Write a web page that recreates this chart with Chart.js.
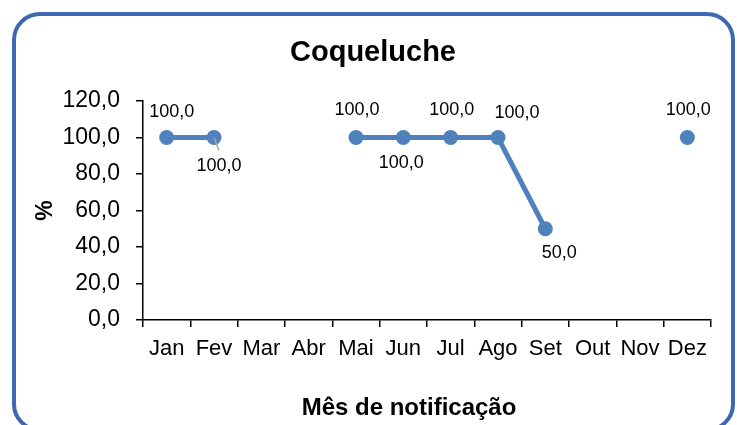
<!DOCTYPE html>
<html>
<head>
<meta charset="utf-8">
<script src="https://cdn.jsdelivr.net/npm/chart.js@4/dist/chart.umd.min.js"></script>
<style>
  html, body { margin: 0; padding: 0; background: #fff; overflow: hidden; }
  #wrap { position: relative; width: 737px; height: 425px; }
  #frame {
    position: absolute; left: 12px; top: 12px; width: 723px; height: 420px;
    box-sizing: border-box; border: 4.5px solid #3f68b3; border-radius: 28px;
    pointer-events: none;
  }
</style>
</head>
<body>
<div id="wrap">
  <canvas id="chart" width="737" height="425"></canvas>
  <div id="frame"></div>
</div>
<script>
var months = ["Jan", "Fev", "Mar", "Abr", "Mai", "Jun", "Jul", "Ago", "Set", "Out", "Nov", "Dez"];
var percent = [100, 100, null, null, 100, 100, 100, 100, 50, null, null, 100];
var yTicks = [0, 20, 40, 60, 80, 100, 120];

var chartTitle = "Coqueluche";
var xTitle = "Mês de notificação";
var yTitle = "%";

// where each value label sits relative to its point (px)
var labelOffsets = [[5, -25], [5, 29], null, null, [1, -27], [-2, 26], [1, -27], [19, -24], [14, 24], null, null, [1, -27]];
var leaderLines = [false, true];

var font = "'Liberation Sans', Arial, sans-serif";

function fmt(v) {
    return v.toFixed(1).replace(".", ",");
}

var valueLabels = {
    id: "valueLabels",
    afterDatasetsDraw: function(chart) {
        var ctx = chart.ctx;
        var meta = chart.getDatasetMeta(0);
        var data = chart.data.datasets[0].data;
        ctx.save();
        meta.data.forEach(function(pt, i) {
            if (data[i] === null || !labelOffsets[i]) return;
            var o = labelOffsets[i];
            if (leaderLines[i]) {
                ctx.strokeStyle = "#a6a6a6";
                ctx.lineWidth = 1.5;
                ctx.beginPath();
                ctx.moveTo(pt.x, pt.y);
                ctx.lineTo(pt.x + o[0], pt.y + o[1] - 16);
                ctx.stroke();
            }
            ctx.fillStyle = "#000";
            ctx.font = "18px " + font;
            ctx.textAlign = "center";
            ctx.textBaseline = "middle";
            ctx.fillText(fmt(data[i]), pt.x + o[0], pt.y + o[1]);
        });
        ctx.restore();
    }
};

// chart title and x axis title sit centred on the frame, not on the plot area
var frameTitles = {
    id: "frameTitles",
    afterDraw: function(chart) {
        var ctx = chart.ctx;
        ctx.save();
        ctx.fillStyle = "#000";
        ctx.textAlign = "center";
        ctx.textBaseline = "middle";
        ctx.font = "bold 29px " + font;
        ctx.fillText(chartTitle, 373, 53);
        ctx.font = "bold 24px " + font;
        ctx.fillText(xTitle, 409, 408);
        ctx.restore();
    }
};

new Chart(document.getElementById("chart"), {
    type: "line",
    data: {
        labels: months,
        datasets: [{
            data: percent,
            borderColor: "#4f81bd",
            backgroundColor: "#4f81bd",
            borderWidth: 5,
            pointRadius: 7.5,
            pointHoverRadius: 7.5,
            pointBackgroundColor: "#4f81bd",
            pointBorderWidth: 0,
            spanGaps: false,
            tension: 0
        }]
    },
    plugins: [valueLabels, frameTitles],
    options: {
        responsive: false,
        animation: false,
        layout: { padding: { left: 0, right: 26, top: 101, bottom: 0 } },
        plugins: {
            legend: { display: false },
            tooltip: { enabled: false },
            title: { display: false }
        },
        scales: {
            x: {
                offset: true,
                grid: { offset: true, drawOnChartArea: false, drawTicks: true, tickLength: 7, color: "#000", lineWidth: 1.5 },
                border: { color: "#000", width: 1.5 },
                ticks: { color: "#000", font: { family: font, size: 22 }, padding: 9, maxRotation: 0, autoSkip: false },
                afterFit: function(scale) { scale.height = 105; }
            },
            y: {
                min: 0,
                max: 120,
                afterBuildTicks: function(scale) {
                    scale.ticks = yTicks.map(function(v) { return { value: v }; });
                },
                grid: { drawOnChartArea: false, drawTicks: true, tickLength: 7, color: "#000", lineWidth: 1.5 },
                border: { color: "#000", width: 1.5 },
                ticks: {
                    color: "#000",
                    font: { family: font, size: 23 },
                    padding: 16,
                    callback: function(v) { return fmt(v); }
                },
                title: {
                    display: true,
                    text: yTitle,
                    color: "#000",
                    font: { family: font, size: 23, weight: "bold" },
                    padding: { top: 32, bottom: 0 }
                },
                afterFit: function(scale) { scale.width = 143; }
            }
        }
    }
});
</script>
</body>
</html>
